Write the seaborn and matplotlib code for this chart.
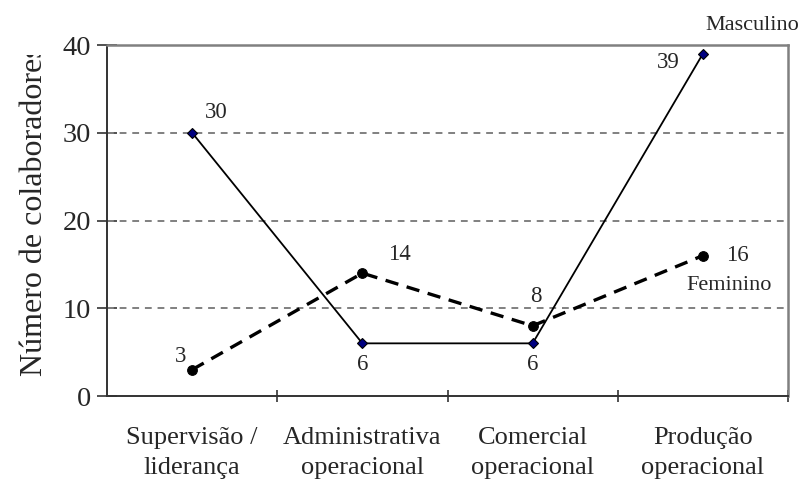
import matplotlib
matplotlib.use("Agg")
import matplotlib.pyplot as plt
import seaborn as sns
import pandas as pd
from matplotlib.transforms import Bbox

# Colaboradores por área e sexo
categorias = ["Supervisão /\nliderança", "Administrativa\noperacional",
              "Comercial\noperacional", "Produção\noperacional"]
masculino = [30, 6, 6, 39]
feminino = [3, 14, 8, 16]
yticks = [0, 10, 20, 30, 40]

sns.set_theme(style="white")
plt.rcParams["font.family"] = ["Liberation Serif", "DejaVu Serif"]

W, H = 806, 486
fig = plt.figure(figsize=(W / 100, H / 100), dpi=100)
ax = fig.add_axes([107 / W, 1 - 396 / H, (788 - 107) / W, (396 - 45) / H])

df = pd.DataFrame({
    "categoria": categorias * 2,
    "valor": masculino + feminino,
    "sexo": ["Masculino"] * 4 + ["Feminino"] * 4,
})

# grid lines behind the series
for v in yticks[1:-1]:
    ax.axhline(v, color="#808080", lw=1.4, ls=(0, (3.5, 3)), zorder=1)

sns.lineplot(data=df[df.sexo == "Masculino"], x="categoria", y="valor",
             sort=False, ax=ax, color="black", lw=1.3, marker="D",
             markersize=5, markerfacecolor="#000080", markeredgecolor="black",
             markeredgewidth=0.8, zorder=3, legend=False)
sns.lineplot(data=df[df.sexo == "Feminino"], x="categoria", y="valor",
             sort=False, ax=ax, color="black", lw=2.4, linestyle=(0, (4, 2.6)),
             marker="o", markersize=7, markerfacecolor="black",
             markeredgecolor="black", zorder=3, legend=False)

ax.set_xlim(-0.5, 3.5)
ax.set_ylim(0, 40)
ax.set_yticks(yticks)
ax.set_xticks(range(len(categorias)))
ax.set_xticklabels(categorias, fontsize=19)
for t in ax.get_xticklabels():
    t.set_linespacing(1.5)
ax.tick_params(axis="x", which="major", length=0, pad=22)
ax.set_xticks([0.5, 1.5, 2.5, 3.5], minor=True)
ax.tick_params(axis="x", which="minor", direction="inout", length=9,
               width=1.2, color="#333333", bottom=True)
ax.tick_params(axis="y", which="major", direction="inout", length=15,
               width=1.2, color="#333333", labelsize=20.5, pad=4, left=True)
ax.set_xlabel("")
ax.set_ylabel("")

for side in ("left", "bottom"):
    ax.spines[side].set_color("#333333")
    ax.spines[side].set_linewidth(1.4)
for side in ("top", "right"):
    ax.spines[side].set_color("#808080")
    ax.spines[side].set_linewidth(1.8)

# value labels
off_m = [(24, 20), (0, -21), (0, -21), (-35, -9)]
off_f = [(-12, 13), (37, 19), (3, 29), (34, 0)]
for i, (v, o) in enumerate(zip(masculino, off_m)):
    ax.annotate(str(v), (i, v), xytext=o, textcoords="offset pixels",
                ha="center", va="center", fontsize=16.5, zorder=5)
for i, (v, o) in enumerate(zip(feminino, off_f)):
    ax.annotate(str(v), (i, v), xytext=o, textcoords="offset pixels",
                ha="center", va="center", fontsize=16.5, zorder=5)

# series names next to the last category
ax.annotate("Masculino", (3, masculino[-1]), xytext=(49, 28),
            textcoords="offset pixels", ha="center", va="center",
            fontsize=16, annotation_clip=False)
ax.annotate("Feminino", (3, feminino[-1]), xytext=(26, -30),
            textcoords="offset pixels", ha="center", va="center",
            fontsize=16)

# y-axis title, cut off at its top edge
yl = fig.text(35 / W, 1 - 376 / H, "Número de colaboradores", rotation=90,
              ha="center", va="bottom", fontsize=23)
yl.set_clip_box(Bbox.from_extents(0, 0, W, H - 55))
yl.set_clip_on(True)

fig.savefig("out.png", dpi=100)
